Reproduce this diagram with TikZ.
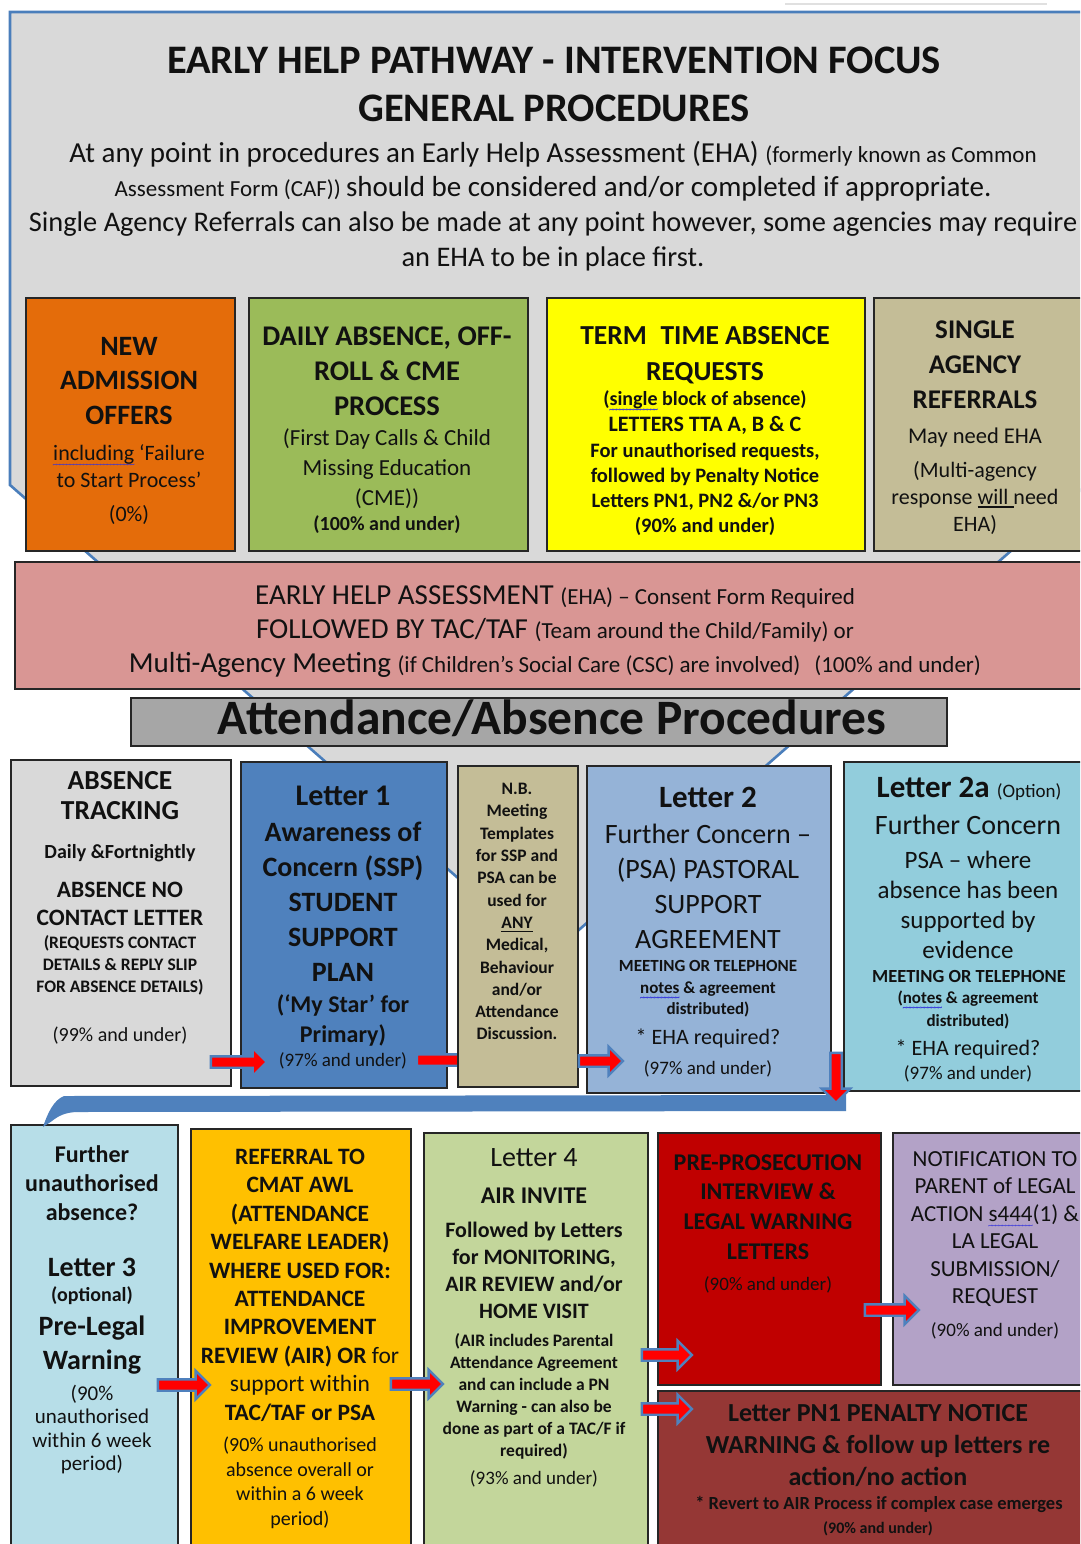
\documentclass[tikz,border=0pt]{standalone}
\usepackage{fontspec}
\setmainfont{Carlito}
\usetikzlibrary{shapes.arrows}
\definecolor{frameblue}{HTML}{4A7EBB}
\definecolor{funnelgrey}{HTML}{D9D9D9}
\definecolor{boxline}{HTML}{262626}
\definecolor{orangeC}{HTML}{E46C0A}
\definecolor{greenC}{HTML}{9BBB59}
\definecolor{yellowC}{HTML}{FFFF00}
\definecolor{tanC}{HTML}{C4BD97}
\definecolor{pinkC}{HTML}{D99694}
\definecolor{attC}{HTML}{A6A6A6}
\definecolor{trackC}{HTML}{D9D9D9}
\definecolor{letterOneC}{HTML}{4F81BD}
\definecolor{letterTwoC}{HTML}{95B3D7}
\definecolor{letterTwoaC}{HTML}{92CDDC}
\definecolor{furtherC}{HTML}{B7DEE8}
\definecolor{referralC}{HTML}{FFC000}
\definecolor{letterFourC}{HTML}{C3D69B}
\definecolor{prepC}{HTML}{C00000}
\definecolor{notifC}{HTML}{B3A2C7}
\definecolor{pnC}{HTML}{953735}
\definecolor{arrowblue}{HTML}{4F81BD}
\definecolor{bandblue}{HTML}{4F81BD}
\definecolor{wavyblue}{HTML}{3333DD}
\definecolor{ink}{HTML}{111111}
\newcommand\fs[2]{\fontsize{#1}{#2}\selectfont}
\newcommand\myul[1]{\setbox0\hbox{#1}\rlap{\raisebox{-3.5pt}{\rule{\wd0}{1.3pt}}}\box0\relax}
\newcommand\bwave[1]{\setbox0\hbox{#1}\rlap{\raisebox{-7pt}[0pt][0pt]{\hbox to \wd0{\textcolor{wavyblue}{\fs{9}{9}\xleaders\hbox{\kern-0.6pt\textasciitilde\kern-0.6pt}\hfill}}}}\box0\relax}
\newcommand\tlines[6]{%
  \foreach \LT [count=\i from 0] in {#6}{%
    \node[txt, font={#5}] (#1\i) at (#2,{#3+#4*\i}) {\LT};
  }}
\newcommand\boxat[6]{%
  \node[bx, fill=#6, minimum width={#4-#2}, minimum height={#5-#3}, anchor=north west] (#1) at (#2,#3) {};}
\begin{document}
\begin{tikzpicture}[x=1pt,y=-1pt,
  bx/.style={draw=boxline, line width=1.6pt, inner sep=0pt},
  txt/.style={anchor=base, inner sep=0pt, text=ink},
  redarr/.style={shape=single arrow, fill=red, draw=arrowblue, line width=2.4pt,
    inner xsep=0pt, inner ysep=4.5pt, single arrow head extend=8.5pt,
    single arrow tip angle=90, single arrow head indent=0pt},
]
\useasboundingbox (0,0) rectangle (1080,1544);
\clip (0,0) rectangle (1080,1544);
\fill[white] (0,0) rectangle (1080,1544);
% faint line at top
\draw[black!12, line width=1.5pt] (785,4) -- (1047,4);
% funnel background
\draw[frameblue, line width=2.6pt, fill=funnelgrey] (10,12) -- (1086,12) -- (1086,485) -- (548,957) -- (10,485) -- cycle;

% row 1
\boxat{orange}{25}{297}{234}{550}{orangeC}
\boxat{green}{248}{297}{527}{550}{greenC}
\boxat{yellow}{546}{297}{864}{550}{yellowC}
\boxat{tan}{873}{297}{1095}{550}{tanC}
\boxat{pink}{14}{561}{1095}{688}{pinkC}
\boxat{att}{130}{697}{946}{745}{attC}
% row 2
\boxat{track}{10}{759}{230}{1085}{trackC}
\boxat{lone}{240}{761}{446}{1087}{letterOneC}
\node[redarr, minimum height=58pt] (a2) at (443,1060) {};
\boxat{nb}{457}{765}{577}{1086}{tanC}
\boxat{ltwo}{586}{765}{830}{1092}{letterTwoC}
\boxat{ltwoa}{843}{761}{1095}{1090}{letterTwoaC}
% row 3
\boxat{further}{10}{1124}{177}{1560}{furtherC}
\boxat{referral}{190}{1128}{410}{1560}{referralC}
\boxat{lfour}{423}{1132}{647}{1560}{letterFourC}
\boxat{prep}{657}{1132}{880}{1384}{prepC}
\boxat{notif}{892}{1132}{1095}{1384}{notifC}
\boxat{pn}{657}{1390}{1095}{1560}{pnC}

% blue band connector from Letter 2 to Further
\fill[bandblue] (846,1095) -- (64,1096) .. controls (54,1100) and (48,1112) .. (43,1127)
  -- (52,1121) .. controls (58,1116) and (66,1112) .. (78,1112) -- (846,1111) -- cycle;

% header text
\node[txt, font=\fs{40.5}{48}\bfseries] (title1) at (554,74) {EARLY HELP PATHWAY - INTERVENTION FOCUS};
\node[txt, font=\fs{40.5}{48}\bfseries] (title2) at (554,122) {GENERAL PROCEDURES};
\node[txt] (h1) at (553,162) {\fs{29}{34}At any point in procedures an Early Help Assessment (EHA) \fs{23}{26}(formerly known as Common};
\node[txt] (h2) at (553,196) {\fs{23}{26}Assessment Form (CAF)) \fs{29}{34}should be considered and/or completed if appropriate.};
\node[txt, font=\fs{28.4}{34}] (h3) at (553,231) {Single Agency Referrals can also be made at any point however, some agencies may require};
\node[txt, font=\fs{28.4}{34}] (h4) at (553,266) {an EHA to be in place first.};

% orange
\tlines{or}{129}{355}{34.5}{\fs{28}{34}\bfseries}{{NEW},{ADMISSION},{OFFERS}}
\node[txt, font=\fs{22}{26}] (or3) at (129,460) {\bwave{including} ‘Failure};
\node[txt, font=\fs{22}{26}] (or4) at (129,487) {to Start Process’};
\node[txt, font=\fs{22}{26}] (or5) at (129,521) {(0\%)};
% green
\tlines{gr}{387}{345}{35}{\fs{28.5}{34}\bfseries}{{DAILY ABSENCE, OFF-},{ROLL \& CME},{PROCESS}}
\tlines{grb}{387}{445}{30}{\fs{23}{28}}{{(First Day Calls \& Child},{Missing Education},{(CME))}}
\node[txt, font=\fs{20}{24}\bfseries] (grc) at (387,530) {(100\% and under)};
% yellow
\tlines{ye}{705}{344}{36}{\fs{27.5}{33}\bfseries}{{TERM\enspace TIME ABSENCE},{REQUESTS}}
\node[txt, font=\fs{20}{24}\bfseries] (yeb) at (705,405) {(\bwave{single} block of absence)};
\node[txt, font=\fs{22}{26}\bfseries] (yec) at (705,431) {LETTERS TTA A, B \& C};
\tlines{yed}{705}{457}{25}{\fs{20.5}{25}\bfseries}{{For unauthorised requests,},{followed by Penalty Notice},{Letters PN1, PN2 \&/or PN3},{(90\% and under)}}
% tan
\tlines{ta}{975}{338}{35}{\fs{27}{33}\bfseries}{{SINGLE},{AGENCY},{REFERRALS}}
\node[txt, font=\fs{22.5}{27}] (tab) at (975,443) {May need EHA};
\tlines{tac}{975}{477}{27}{\fs{22}{27}}{{(Multi-agency},{response \myul{will }need},{EHA)}}
% pink
\node[txt] (pk1) at (555,604) {\fs{29}{34}EARLY HELP ASSESSMENT \fs{23}{26}(EHA) – Consent Form Required};
\node[txt] (pk2) at (555,638) {\fs{29}{34}FOLLOWED BY TAC/TAF \fs{23}{26}(Team around the Child/Family) or};
\node[txt] (pk3) at (555,672) {\fs{29}{34}Multi-Agency Meeting \fs{23}{26}(if Children’s Social Care (CSC) are involved)\hspace{14pt}(100\% and under)};
% attendance
\node[txt, font=\fs{49.5}{56}\bfseries] (attt) at (552,734) {Attendance/Absence Procedures};
% absence tracking
\tlines{at}{120}{789}{30}{\fs{27.5}{33}\bfseries}{{ABSENCE},{TRACKING}}
\node[txt, font=\fs{20}{24}\bfseries] (atb) at (120,858) {Daily \&Fortnightly};
\tlines{atc}{120}{897.5}{28}{\fs{23.5}{28}\bfseries}{{ABSENCE NO},{CONTACT LETTER}}
\tlines{atd}{120}{948.6}{22}{\fs{17.5}{22}\bfseries}{{(REQUESTS CONTACT},{DETAILS \& REPLY SLIP},{FOR ABSENCE DETAILS)}}
\node[txt, font=\fs{20}{24}] (ate) at (120,1041) {(99\% and under)};
% letter 1
\node[txt, font=\fs{30}{36}\bfseries] (loa) at (343,805) {Letter 1};
\tlines{lob}{343}{841}{35.2}{\fs{28}{34}\bfseries}{{Awareness of},{Concern (SSP)},{STUDENT},{SUPPORT},{PLAN}}
\tlines{loc}{343}{1012}{30}{\fs{24}{29}\bfseries}{{(‘My Star’ for},{Primary)}}
\node[txt, font=\fs{19}{23}] (lod) at (343,1066) {(97\% and under)};
% NB
\tlines{nbt}{517}{794.6}{22.3}{\fs{17.5}{22}\bfseries}{{N.B.},{Meeting},{Templates},{for SSP and},{PSA can be},{used for},{\myul{ANY}},{Medical,},{Behaviour},{and/or},{Attendance},{Discussion.}}
% letter 2
\node[txt, font=\fs{31}{37}\bfseries] (lta) at (708,807) {Letter 2};
\tlines{ltb}{708}{843}{35}{\fs{28}{34}}{{Further Concern –},{(PSA) PASTORAL},{SUPPORT},{AGREEMENT}}
\tlines{ltc}{708}{971.5}{21.5}{\fs{17}{21}\bfseries}{{MEETING OR TELEPHONE},{\bwave{notes} \& agreement},{distributed)}}
\node[txt, font=\fs{22}{26}] (ltd) at (708,1044) {* EHA required?};
\node[txt, font=\fs{19}{23}] (lte) at (708,1074) {(97\% and under)};
% letter 2a
\node[txt] (lxa) at (969,797) {\fs{31}{37}\bfseries Letter 2a \fs{19}{22}\mdseries (Option)};
\node[txt, font=\fs{28}{34}] (lxb) at (968,834) {Further Concern};
\tlines{lxc}{968}{868}{30.3}{\fs{25}{30}}{{PSA – where},{absence has been},{supported by},{evidence}}
\node[txt, font=\fs{18.5}{22}\bfseries] (lxd) at (969,982) {MEETING OR TELEPHONE};
\tlines{lxe}{968}{1003.5}{23}{\fs{17}{21}\bfseries}{{(\bwave{notes} \& agreement},{distributed)}}
\node[txt, font=\fs{22}{26}] (lxf) at (968,1055) {* EHA required?};
\node[txt, font=\fs{19}{23}] (lxg) at (968,1079) {(97\% and under)};
% further
\tlines{fu}{92}{1162}{29}{\fs{24}{29}\bfseries}{{Further},{unauthorised},{absence?}}
\node[txt, font=\fs{28}{34}\bfseries] (fub) at (92,1276) {Letter 3};
\node[txt, font=\fs{20}{24}\bfseries] (fuc) at (92,1301) {(optional)};
\tlines{fud}{92}{1335}{34}{\fs{28}{34}\bfseries}{{Pre-Legal},{Warning}}
\tlines{fue}{92}{1400}{23.5}{\fs{21}{24}}{{(90\%},{unauthorised},{within 6 week},{period)}}
% referral
\tlines{rf}{300}{1164.5}{28.4}{\fs{23.5}{28}\bfseries}{{REFERRAL TO},{CMAT AWL},{(ATTENDANCE},{WELFARE LEADER)},{WHERE USED FOR:},{ATTENDANCE},{IMPROVEMENT},{REVIEW (AIR) OR \mdseries for},{\mdseries support within},{TAC/TAF or PSA}}
\tlines{rfb}{300}{1451.4}{24.6}{\fs{20}{24}}{{(90\% unauthorised},{absence overall or},{within a 6 week},{period)}}
% letter 4
\node[txt, font=\fs{28}{34}] (lfa) at (534,1166) {Letter 4};
\node[txt, font=\fs{24}{29}\bfseries] (lfb) at (534,1203) {AIR INVITE};
\tlines{lfc}{534}{1237}{27}{\fs{22}{27}\bfseries}{{Followed by Letters},{for MONITORING,},{AIR REVIEW and/or},{HOME VISIT}}
\tlines{lfd}{534}{1346.6}{22}{\fs{17.5}{21}\bfseries}{{(AIR includes Parental},{Attendance Agreement},{and can include a PN},{Warning - can also be},{done as part of a TAC/F if},{required)}}
\node[txt, font=\fs{19}{23}] (lfe) at (534,1484) {(93\% and under)};
% pre-prosecution
\tlines{pp}{768}{1170}{29.7}{\fs{24}{29}\bfseries}{{PRE-PROSECUTION},{INTERVIEW \&},{LEGAL WARNING},{LETTERS}}
\node[txt, font=\fs{19}{23}] (ppb) at (768,1290) {(90\% and under)};
% notification
\tlines{nt}{995}{1166.4}{27.4}{\fs{23}{27}}{{NOTIFICATION TO},{PARENT of LEGAL},{ACTION \bwave{s444}(1) \&},{LA LEGAL},{SUBMISSION/},{REQUEST}}
\node[txt, font=\fs{19}{23}] (ntb) at (995,1336) {(90\% and under)};
% PN1
\tlines{pnt}{878}{1421.3}{32}{\fs{26}{32}\bfseries}{{Letter PN1 PENALTY NOTICE},{WARNING \& follow up letters re},{action/no action}}
\node[txt, font=\fs{18.5}{22}\bfseries] (pnb) at (879,1509.5) {* Revert to AIR Process if complex case emerges};
\node[txt, font=\fs{16}{20}\bfseries] (pnc) at (878,1533) {(90\% and under)};

% red block arrows
\node[redarr, minimum height=56pt] (a1) at (236,1062) {};
\node[redarr, minimum height=44pt] (a3) at (598,1061) {};
\node[redarr, minimum height=50pt, rotate=-90] (a4) at (836,1075) {};
\node[redarr, minimum height=52pt] (a5) at (181,1385) {};
\node[redarr, minimum height=52pt] (a6) at (414,1384) {};
\node[redarr, minimum height=50pt] (a7) at (664,1355) {};
\node[redarr, minimum height=50pt] (a8) at (664,1409) {};
\node[redarr, minimum height=54pt] (a9) at (889,1310) {};
\end{tikzpicture}
\end{document}
